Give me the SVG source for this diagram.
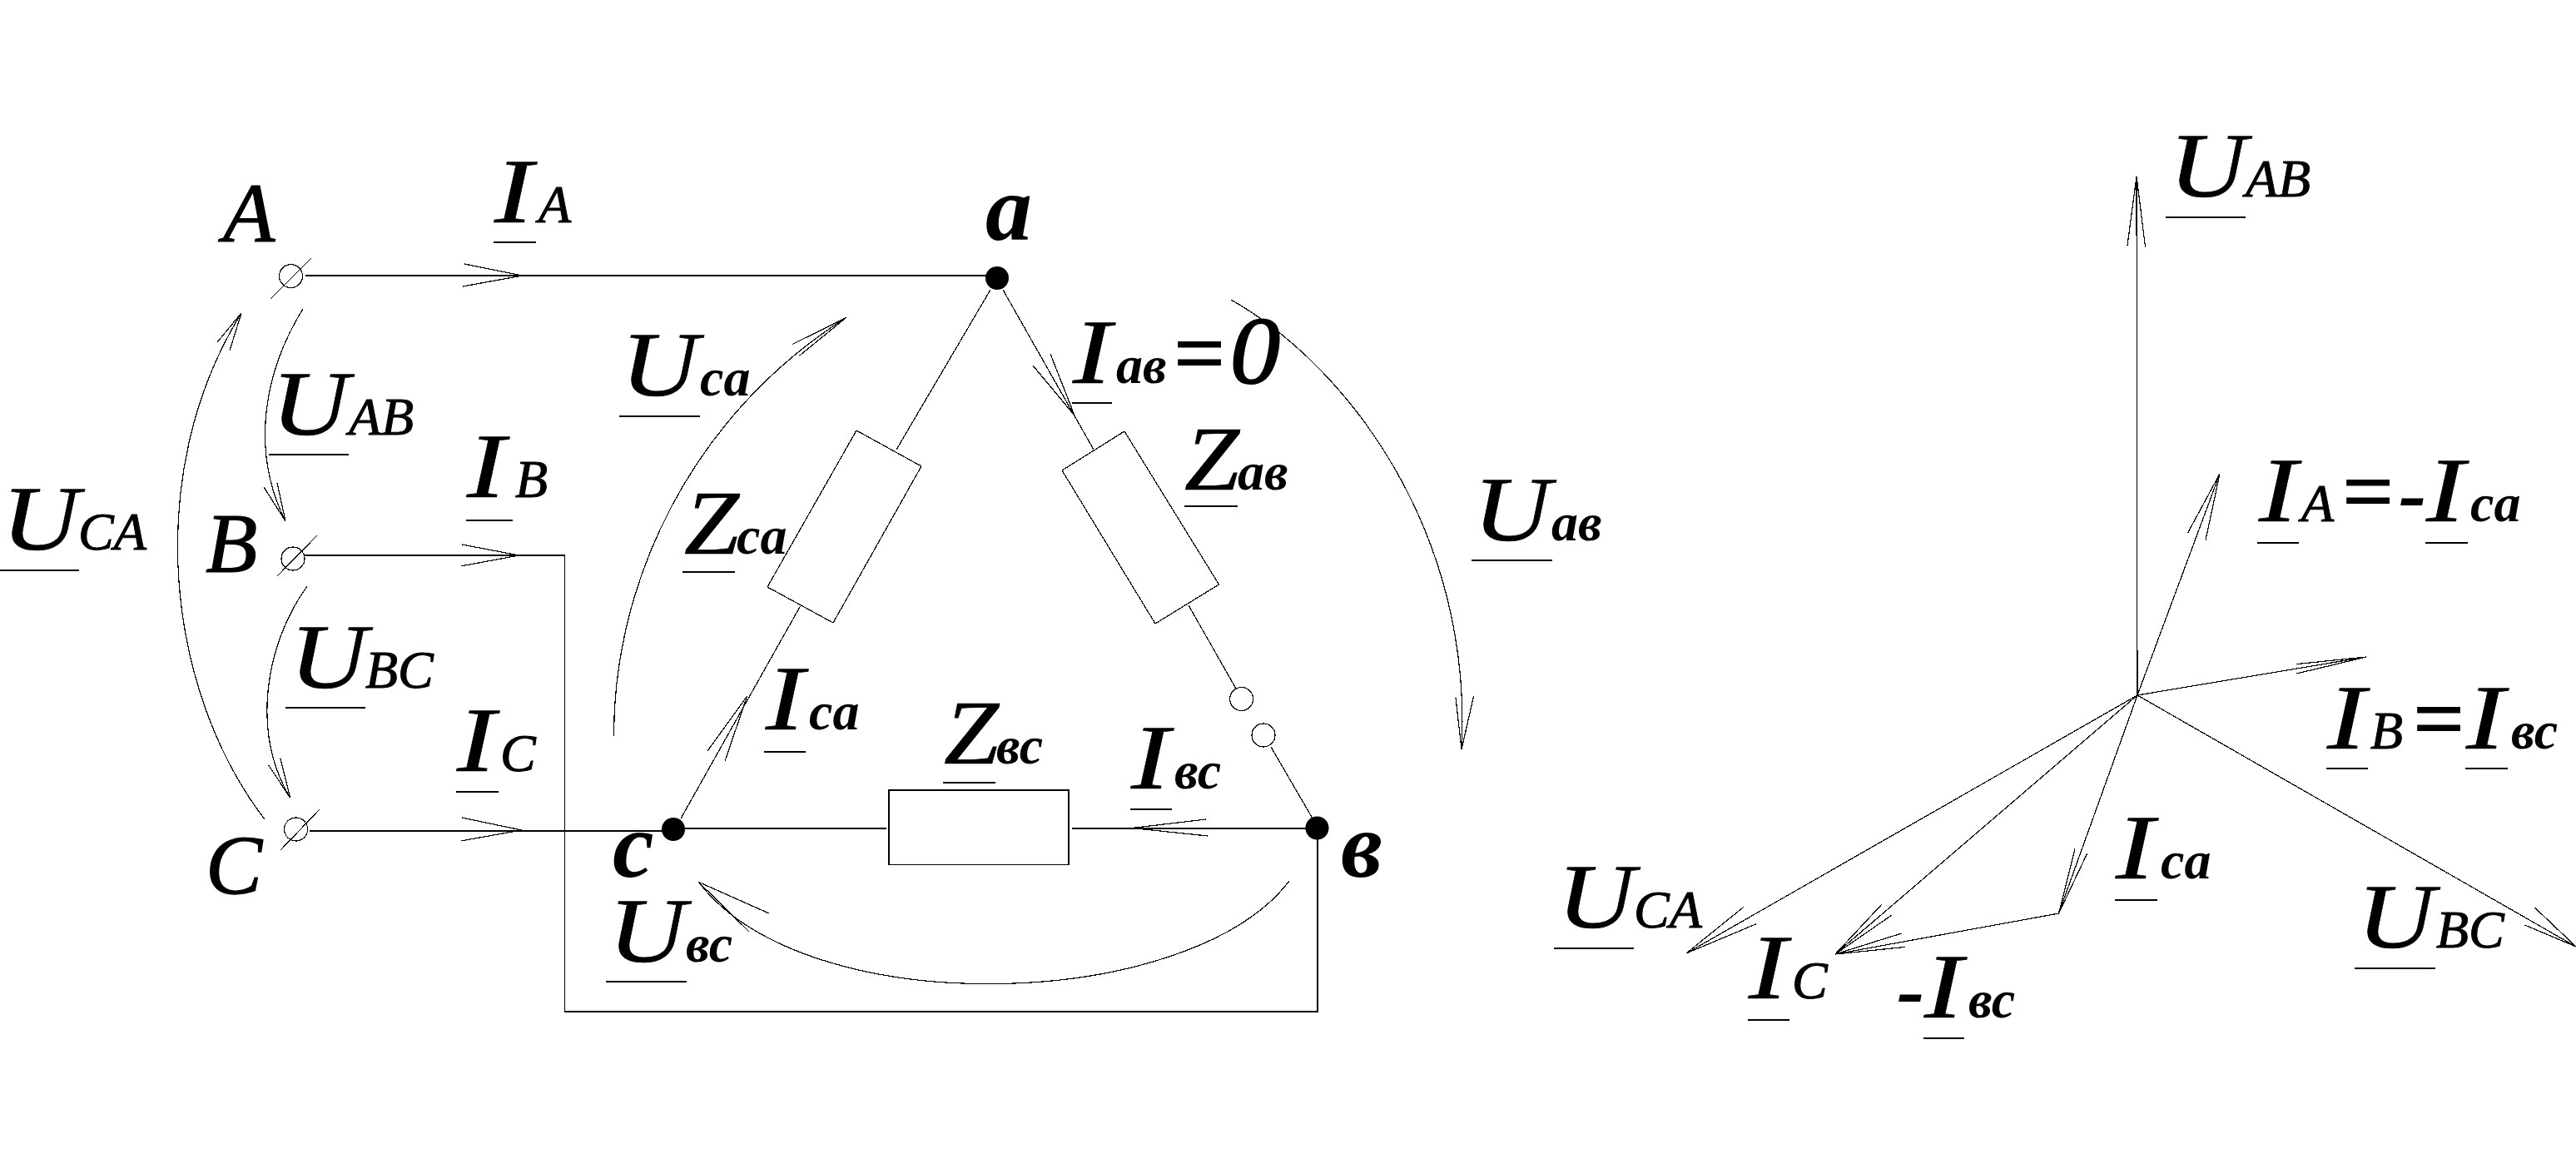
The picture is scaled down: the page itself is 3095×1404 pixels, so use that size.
<svg xmlns="http://www.w3.org/2000/svg" width="3095" height="1404" viewBox="0 0 3095 1404">
<style>
text{font-family:"Liberation Serif","Times New Roman",serif;font-style:italic;fill:#000}
.l{font-size:102px;stroke:#000;stroke-width:1.2}
.m{font-size:110px;stroke:#000;stroke-width:.7}
.s{font-size:64px;stroke:#000;stroke-width:1}
.b{font-size:64px;font-weight:bold}
.n{font-size:112px;font-weight:bold}
.e{font-size:107px;stroke:#000;stroke-width:2}
.z{font-size:115px;stroke:#000;stroke-width:2}
.d{font-size:100px;font-weight:bold}
.w,.w line,.w polyline,.w path,.w polygon{fill:none;stroke:#000;stroke-width:1.2;shape-rendering:crispEdges}
.u line{stroke:#000;stroke-width:1.6;shape-rendering:crispEdges}
.dot{fill:#000;stroke:none}
.o{fill:#fff;stroke:#000;stroke-width:1.2;shape-rendering:crispEdges}
</style>
<rect width="3095" height="1404" fill="#fff"/>
<g id="connectors" class="w">
<polyline points="367,331 1198,331"/>
<polyline points="558,317 627.5,331 556,344"/>
<polyline points="365,667 678.6,667 678.6,1215 1583,1215 1583,995"/>
<polyline points="555,654 623.5,667 553.6,680"/>
<polyline points="372,998 800,998"/>
<polyline points="555,982 626.5,997 553.6,1010"/>
<path d="M364 371C318 445 300 540 343 626"/>
<polyline points="317,585 343,626 333,580"/>
<path d="M369 704C318 775 302 880 348.5 958"/>
<polyline points="322.4,918.6 348.5,958 337,911"/>
<path d="M318 984C200 830 170 570 290 376"/>
<polyline points="261,411 290,376 276,421"/>
<path d="M737.5 884C737 700 830 500 1016.5 381.6"/>
<polyline points="952,413.5 1016.5,381.6 960.7,427"/>
<path d="M1479 360C1620 440 1770 640 1756 900"/>
<polyline points="1749,838 1756,900 1770.6,836"/>
<path d="M1549 1058C1430 1215 970 1230 839.5 1059.5"/>
<polyline points="924,1097 839.5,1059.5 900,1119"/>
<line x1="1190" y1="348" x2="1077" y2="540"/>
<line x1="961.5" y1="728" x2="818" y2="983"/>
<line x1="1205" y1="348" x2="1314" y2="540"/>
<line x1="1428" y1="727" x2="1485" y2="827"/>
<line x1="1527" y1="897" x2="1577" y2="983"/>
<line x1="820" y1="995" x2="1065" y2="995"/>
<line x1="1288" y1="995" x2="1582" y2="995"/>
<polyline points="1449,984 1360,994.5 1451,1004"/>
<polyline points="1262,425 1291,499 1241,439"/>
<polyline points="850,902 897.7,836 871,914"/>
<line x1="2568" y1="835" x2="2567" y2="212"/>
<polyline points="2556,295 2567,212 2577.6,297"/>
<line x1="2568" y1="835" x2="2667" y2="569"/>
<polyline points="2628.6,640 2667,569 2650,648.6"/>
<line x1="2568" y1="835" x2="2843" y2="789"/>
<polyline points="2759.5,797.6 2843,789 2759.5,809"/>
<line x1="2568" y1="835" x2="3095" y2="1137"/>
<polyline points="3045.4,1090 3095,1137 3033.5,1111"/>
<line x1="2568" y1="835" x2="2026" y2="1145"/>
<polyline points="2094.6,1089.6 2026,1145 2110.5,1109.5"/>
<line x1="2568" y1="835" x2="2205" y2="1146"/>
<polyline points="2260.6,1086.5 2205,1146 2273,1099"/>
<line x1="2473.5" y1="1097" x2="2205" y2="1146"/>
<polyline points="2284.5,1121 2205,1146 2289,1137.4"/>
<line x1="2568" y1="835" x2="2473.5" y2="1097"/>
<polyline points="2493,1019.6 2473.5,1097 2507.7,1025"/>
</g>
<g id="terminal-A" class="w"><circle cx="349.5" cy="331.6" r="14"/><line x1="374" y1="310" x2="325.5" y2="358.6"/></g>
<g id="terminal-B" class="w"><circle cx="352" cy="671" r="14"/><line x1="381" y1="643" x2="333" y2="692"/></g>
<g id="terminal-C" class="w"><circle cx="355.6" cy="996" r="14"/><line x1="384" y1="972" x2="337" y2="1021"/></g>
<g id="node-a"><circle class="dot" cx="1198" cy="334" r="14"/></g>
<g id="node-b"><circle class="dot" cx="1582.5" cy="994.5" r="14"/></g>
<g id="node-c"><circle class="dot" cx="809" cy="996" r="14"/></g>
<g id="switch"><circle class="o" cx="1491.6" cy="839.5" r="14"/><circle class="o" cx="1518" cy="883" r="14"/></g>
<g id="Z-ca"><polygon class="o" points="1029,517 1107,560 1001,748 922,705"/></g>
<g id="Z-ab"><polygon class="o" points="1351,518 1276,565 1388,749 1464.5,702"/></g>
<g id="Z-bc"><rect class="o" x="1068" y="949" width="216" height="89.5"/></g>
<g id="labels">
<text class="l" x="268" y="290">A</text>
<text class="l" x="247" y="687">B</text>
<text class="l" x="247" y="1074">C</text>
<text class="n" x="1184" y="288">a</text>
<text class="n" x="736" y="1053">c</text>
<text class="n" x="1611" y="1053">в</text>
<text y="267"><tspan class="m" x="594" textLength="46" lengthAdjust="spacingAndGlyphs">I</tspan><tspan class="s" x="647">A</tspan></text>
<text y="522"><tspan class="m" x="326" textLength="93" lengthAdjust="spacingAndGlyphs">U</tspan><tspan class="s" x="419">AB</tspan></text>
<text y="660"><tspan class="m" x="2" textLength="93" lengthAdjust="spacingAndGlyphs">U</tspan><tspan class="s" x="94">CA</tspan></text>
<text y="597"><tspan class="m" x="561" textLength="46" lengthAdjust="spacingAndGlyphs">I</tspan><tspan class="s" x="619">B</tspan></text>
<text y="926"><tspan class="m" x="549" textLength="46" lengthAdjust="spacingAndGlyphs">I</tspan><tspan class="s" x="601">C</tspan></text>
<text y="826"><tspan class="m" x="348" textLength="93" lengthAdjust="spacingAndGlyphs">U</tspan><tspan class="s" x="439">BC</tspan></text>
<text y="475"><tspan class="m" x="746" textLength="93" lengthAdjust="spacingAndGlyphs">U</tspan><tspan class="b" x="841">ca</tspan></text>
<text y="665"><tspan class="m" x="822" textLength="66" lengthAdjust="spacingAndGlyphs">Z</tspan><tspan class="b" x="885">ca</tspan></text>
<text y="460"><tspan class="m" x="1289" textLength="46" lengthAdjust="spacingAndGlyphs">I</tspan><tspan class="b" x="1341">ав</tspan><tspan class="e" x="1404">=</tspan><tspan class="z" x="1478" textLength="60" lengthAdjust="spacingAndGlyphs">0</tspan></text>
<text y="588"><tspan class="m" x="1423" textLength="66" lengthAdjust="spacingAndGlyphs">Z</tspan><tspan class="b" x="1487">ав</tspan></text>
<text y="649"><tspan class="m" x="1770" textLength="93" lengthAdjust="spacingAndGlyphs">U</tspan><tspan class="b" x="1864">ав</tspan></text>
<text y="876"><tspan class="m" x="920" textLength="46" lengthAdjust="spacingAndGlyphs">I</tspan><tspan class="b" x="972">ca</tspan></text>
<text y="917"><tspan class="m" x="1134" textLength="66" lengthAdjust="spacingAndGlyphs">Z</tspan><tspan class="b" x="1197">вс</tspan></text>
<text y="947"><tspan class="m" x="1359" textLength="46" lengthAdjust="spacingAndGlyphs">I</tspan><tspan class="b" x="1411">вс</tspan></text>
<text y="1155"><tspan class="m" x="731" textLength="93" lengthAdjust="spacingAndGlyphs">U</tspan><tspan class="b" x="824">вс</tspan></text>
<text y="236"><tspan class="m" x="2606" textLength="93" lengthAdjust="spacingAndGlyphs">U</tspan><tspan class="s" x="2698">AB</tspan></text>
<text y="626"><tspan class="m" x="2714" textLength="46" lengthAdjust="spacingAndGlyphs">I</tspan><tspan class="s" x="2765">A</tspan><tspan class="e" x="2808">=</tspan><tspan class="d" x="2882">-</tspan><tspan class="m" x="2915" textLength="46" lengthAdjust="spacingAndGlyphs">I</tspan><tspan class="b" x="2968">ca</tspan></text>
<text y="899"><tspan class="m" x="2796" textLength="46" lengthAdjust="spacingAndGlyphs">I</tspan><tspan class="s" x="2848">B</tspan><tspan class="e" x="2893">=</tspan><tspan class="m" x="2963" textLength="46" lengthAdjust="spacingAndGlyphs">I</tspan><tspan class="b" x="3017">вс</tspan></text>
<text y="1138"><tspan class="m" x="2832" textLength="93" lengthAdjust="spacingAndGlyphs">U</tspan><tspan class="s" x="2927">BC</tspan></text>
<text y="1114"><tspan class="m" x="1871" textLength="93" lengthAdjust="spacingAndGlyphs">U</tspan><tspan class="s" x="1963">CA</tspan></text>
<text y="1055"><tspan class="m" x="2542" textLength="46" lengthAdjust="spacingAndGlyphs">I</tspan><tspan class="b" x="2596">ca</tspan></text>
<text y="1199"><tspan class="m" x="2101" textLength="46" lengthAdjust="spacingAndGlyphs">I</tspan><tspan class="s" x="2153">C</tspan></text>
<text y="1222"><tspan class="d" x="2279">-</tspan><tspan class="m" x="2312" textLength="46" lengthAdjust="spacingAndGlyphs">I</tspan><tspan class="b" x="2365">вс</tspan></text>
</g>
<g id="underlines" class="u">
<line x1="593" y1="291" x2="644" y2="291"/>
<line x1="323" y1="546" x2="419" y2="546"/>
<line x1="0" y1="685" x2="95" y2="685"/>
<line x1="560" y1="625" x2="616" y2="625"/>
<line x1="548" y1="951" x2="599" y2="951"/>
<line x1="343" y1="850" x2="439" y2="850"/>
<line x1="744" y1="500" x2="841" y2="500"/>
<line x1="820" y1="687" x2="883" y2="687"/>
<line x1="1288" y1="484" x2="1336" y2="484"/>
<line x1="1423" y1="608" x2="1487" y2="608"/>
<line x1="1768" y1="673" x2="1865" y2="673"/>
<line x1="918" y1="903" x2="968" y2="903"/>
<line x1="1133" y1="940" x2="1196" y2="940"/>
<line x1="1358" y1="972" x2="1408" y2="972"/>
<line x1="728" y1="1179" x2="825" y2="1179"/>
<line x1="2602" y1="261" x2="2698" y2="261"/>
<line x1="2712" y1="652" x2="2762" y2="652"/>
<line x1="2914" y1="652" x2="2965" y2="652"/>
<line x1="2795" y1="923" x2="2845" y2="923"/>
<line x1="2962" y1="923" x2="3013" y2="923"/>
<line x1="2829" y1="1163" x2="2926" y2="1163"/>
<line x1="1867" y1="1139" x2="1963" y2="1139"/>
<line x1="2541" y1="1081" x2="2592" y2="1081"/>
<line x1="2100" y1="1225" x2="2150" y2="1225"/>
<line x1="2311" y1="1247" x2="2360" y2="1247"/>
</g>
</svg>
